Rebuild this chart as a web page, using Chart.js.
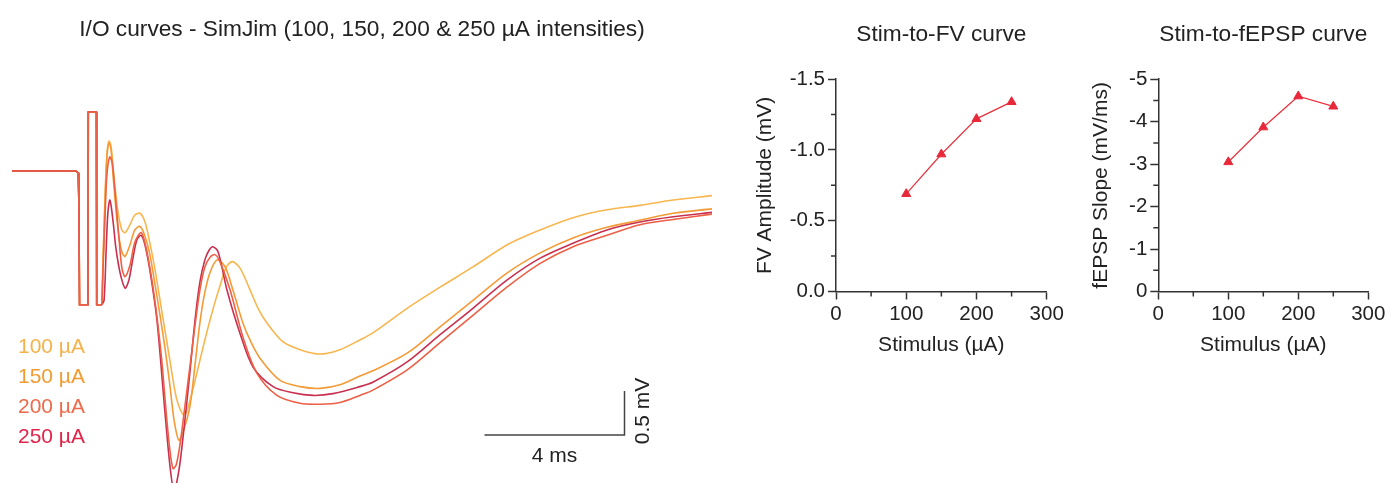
<!DOCTYPE html>
<html>
<head>
<meta charset="utf-8">
<script src="https://cdn.jsdelivr.net/npm/chart.js@4"></script>
<style>
  html, body { margin: 0; padding: 0; background: #fff; }
  body { width: 1390px; height: 483px; position: relative; overflow: hidden; font-family: "Liberation Sans", Arial, sans-serif; }
  .box { position: absolute; top: 0; }
  #tracesBox { left: 0; width: 730px; height: 483px; }
  #fvBox { left: 730px; width: 350px; height: 380px; }
  #slopeBox { left: 1060px; width: 330px; height: 380px; }
  #legend { position: absolute; left: 18px; top: 330.75px; font-size: 21px; line-height: 30px; }
</style>
</head>
<body>
<div class="box" id="tracesBox"><canvas id="traces"></canvas></div>
<div class="box" id="fvBox"><canvas id="fv"></canvas></div>
<div class="box" id="slopeBox"><canvas id="slope"></canvas></div>
<div id="legend"></div>
<script>
// stimulus intensities (µA) and the colours used for each sweep
const intensities = [100, 150, 200, 250];
const traceColors = ["#f7b650", "#f39b36", "#ec6046", "#c8304f"];
const labelColors = ["#f5b14a", "#f29b30", "#ee6a4a", "#e2244a"];

// stimulus artifact, the same on every sweep  [ms, mV]
const artifact = [[0, 0], [1.83, 0], [1.89, -0.02], [1.91, -0.33], [1.93, -1.52], [2.17, -1.52],
  [2.18, 0.67], [2.41, 0.67], [2.42, -1.52], [2.57, -1.52]];

// averaged field potentials after the artifact  [ms, mV]
const trace100 = [[2.60, -1.01], [2.66, -0.27], [2.71, 0.18], [2.77, 0.34], [2.83, 0.28], [2.91, -0.05],
  [3.03, -0.47], [3.14, -0.67], [3.23, -0.70], [3.37, -0.61], [3.51, -0.50], [3.66, -0.48], [3.80, -0.58],
  [3.94, -0.82], [4.09, -1.13], [4.23, -1.47], [4.37, -1.81], [4.51, -2.15], [4.66, -2.51], [4.74, -2.64],
  [4.89, -2.77], [4.97, -2.75], [5.09, -2.60], [5.23, -2.38], [5.37, -2.15], [5.51, -1.92], [5.66, -1.69],
  [5.80, -1.49], [5.94, -1.31], [6.11, -1.10], [6.29, -1.03], [6.51, -1.10], [6.80, -1.35], [7.03, -1.56],
  [7.29, -1.73], [7.74, -1.94], [8.23, -2.03], [8.80, -2.08], [9.37, -2.03], [9.94, -1.92], [10.31, -1.84],
  [11.29, -1.56], [12.23, -1.32], [13.17, -1.09], [14.14, -0.84], [15.09, -0.67], [16.03, -0.53],
  [17.00, -0.44], [17.94, -0.39], [18.89, -0.33], [20.00, -0.28]];

const trace150 = [[2.60, -1.07], [2.66, -0.33], [2.71, 0.15], [2.77, 0.32], [2.83, 0.24], [2.91, -0.16],
  [3.03, -0.67], [3.14, -0.92], [3.23, -0.97], [3.37, -0.84], [3.51, -0.67], [3.66, -0.63], [3.80, -0.74],
  [3.94, -0.95], [4.09, -1.30], [4.23, -1.64], [4.37, -2.01], [4.51, -2.43], [4.63, -2.83], [4.77, -3.06],
  [4.91, -2.94], [5.09, -2.66], [5.23, -2.20], [5.37, -1.72], [5.51, -1.38], [5.66, -1.15], [5.86, -1.01],
  [6.09, -1.09], [6.31, -1.35], [6.60, -1.73], [6.80, -1.92], [7.09, -2.13], [7.66, -2.38], [8.23, -2.45],
  [8.80, -2.47], [9.37, -2.43], [9.94, -2.33], [10.31, -2.27], [11.29, -2.07], [12.23, -1.77],
  [13.17, -1.47], [14.14, -1.16], [15.09, -0.93], [16.03, -0.76], [17.00, -0.64], [17.94, -0.56],
  [18.89, -0.48], [20.00, -0.43]];

const trace200 = [[2.60, -1.13], [2.66, -0.50], [2.71, -0.05], [2.79, 0.16], [2.86, 0.10], [2.94, -0.22],
  [3.06, -0.78], [3.14, -1.10], [3.23, -1.20], [3.37, -1.07], [3.51, -0.81], [3.69, -0.70], [3.80, -0.82],
  [3.94, -1.10], [4.06, -1.41], [4.17, -1.75], [4.29, -2.20], [4.40, -2.72], [4.51, -3.17], [4.60, -3.38],
  [4.69, -3.34], [4.80, -3.11], [4.91, -2.77], [5.09, -2.20], [5.23, -1.75], [5.37, -1.35], [5.51, -1.09],
  [5.66, -0.98], [5.80, -0.95], [5.94, -1.03], [6.23, -1.35], [6.60, -1.89], [7.00, -2.30], [7.57, -2.55],
  [8.23, -2.64], [8.80, -2.65], [9.37, -2.63], [9.94, -2.55], [10.31, -2.49], [11.29, -2.26],
  [12.23, -1.95], [13.17, -1.64], [14.14, -1.32], [15.09, -1.05], [16.03, -0.86], [17.00, -0.73],
  [17.94, -0.61], [18.89, -0.55], [20.00, -0.49]];

const trace250 = [[2.63, -1.47], [2.69, -0.90], [2.74, -0.47], [2.80, -0.33], [2.89, -0.58], [2.97, -0.88],
  [3.09, -1.16], [3.23, -1.33], [3.34, -1.24], [3.46, -0.98], [3.57, -0.78], [3.69, -0.73], [3.80, -0.84],
  [3.94, -1.13], [4.14, -1.69], [4.34, -2.60], [4.51, -3.34], [4.63, -3.63], [4.77, -3.40], [4.91, -2.94],
  [5.09, -2.26], [5.23, -1.69], [5.37, -1.26], [5.51, -1.01], [5.63, -0.90], [5.74, -0.86], [5.89, -0.92],
  [6.14, -1.35], [6.51, -1.84], [6.89, -2.23], [7.46, -2.45], [8.03, -2.52], [8.60, -2.55], [9.17, -2.53],
  [9.94, -2.45], [10.31, -2.40], [11.29, -2.17], [12.23, -1.86], [13.17, -1.56], [14.14, -1.24],
  [15.09, -0.99], [16.03, -0.82], [17.00, -0.67], [17.94, -0.58], [18.89, -0.52], [20.00, -0.47]];

// input/output summary
const stimulus = [100, 150, 200, 250];
const fvAmplitude = [-0.69, -0.97, -1.22, -1.34];
const fepspSlope = [-3.05, -3.87, -4.60, -4.36];

// scale bar: 4 ms by 0.5 mV
const scaleBar = { x: 13.5, y: -3.0, ms: 4, mV: 0.5 };

const FONT = '"Liberation Sans", Arial, sans-serif';
const ink = "#222";
const axisColor = "#333";
Chart.defaults.font.family = FONT;
Chart.defaults.color = ink;

// legend labels under the traces
const legendEl = document.getElementById("legend");
intensities.forEach((v, i) => {
  const d = document.createElement("div");
  d.textContent = v + " µA";
  d.style.color = labelColors[i];
  legendEl.appendChild(d);
});

const scaleBarPlugin = {
  id: "scaleBar",
  afterDatasetsDraw(chart) {
    const { ctx, scales: { x, y } } = chart;
    const x0 = x.getPixelForValue(scaleBar.x);
    const x1 = x.getPixelForValue(scaleBar.x + scaleBar.ms);
    const y0 = y.getPixelForValue(scaleBar.y);
    const y1 = y.getPixelForValue(scaleBar.y + scaleBar.mV);
    ctx.save();
    ctx.strokeStyle = "#444";
    ctx.lineWidth = 1.5;
    ctx.beginPath();
    ctx.moveTo(x0, y0);
    ctx.lineTo(x1, y0);
    ctx.lineTo(x1, y1);
    ctx.stroke();
    ctx.fillStyle = ink;
    ctx.font = "21px " + FONT;
    ctx.textAlign = "center";
    ctx.textBaseline = "middle";
    ctx.fillText(scaleBar.ms + " ms", (x0 + x1) / 2, y0 + 21);
    ctx.translate(x1 + 19, (y0 + y1) / 2 - 2);
    ctx.rotate(-Math.PI / 2);
    ctx.fillText(scaleBar.mV + " mV", 0, 0);
    ctx.restore();
  },
};

const order = { 100: 3, 150: 2, 200: 0, 250: 1 };
const sweeps = [trace100, trace150, trace200, trace250];
const toXY = (pts) => pts.map(([x, y]) => ({ x, y }));

// the artifact is drawn straight, the response is smoothed
const traceSets = [];
sweeps.forEach((tr, i) => {
  const common = {
    borderColor: traceColors[i],
    borderWidth: 1.6,
    pointRadius: 0,
    clip: false,
    order: order[intensities[i]],
  };
  traceSets.push({ ...common, label: "artifact", data: toXY(artifact), tension: 0 });
  traceSets.push({
    ...common,
    label: intensities[i] + " µA",
    data: toXY([artifact[artifact.length - 1]].concat(tr)),
    tension: 0.3,
    capBezierPoints: false,
  });
});

new Chart(document.getElementById("traces"), {
  type: "line",
  data: { datasets: traceSets },
  options: {
    responsive: true,
    maintainAspectRatio: false,
    animation: false,
    events: [],
    layout: { padding: { left: 12, right: 18, top: 0, bottom: 4 } },
    plugins: {
      legend: { display: false },
      tooltip: { enabled: false },
      title: {
        display: true,
        text: "I/O curves - SimJim (100, 150, 200 & 250 µA intensities)",
        color: ink,
        font: { size: 22.7, weight: "normal" },
        padding: { top: 16.4, bottom: 17.4 },
      },
    },
    scales: {
      x: { type: "linear", min: 0, max: 20, display: false },
      y: { type: "linear", min: -3.5, max: 1.25, display: false },
    },
  },
  plugins: [scaleBarPlugin],
});

// short unlabeled ticks between the labeled ones
const minorTicks = {
  id: "minorTicks",
  afterDraw(chart, args, opts) {
    const { ctx } = chart;
    const x = chart.scales.x, y = chart.scales.y;
    const isMinor = (v, step) => Math.abs(v / step - Math.round(v / step)) > 1e-6;
    ctx.save();
    ctx.strokeStyle = axisColor;
    ctx.lineWidth = 1.5;
    ctx.beginPath();
    x.ticks.forEach((t) => {
      if (!isMinor(t.value, opts.xMajor)) return;
      const p = x.getPixelForValue(t.value);
      ctx.moveTo(p, x.top);
      ctx.lineTo(p, x.top + 5);
    });
    y.ticks.forEach((t) => {
      if (!isMinor(t.value, opts.yMajor)) return;
      const p = y.getPixelForValue(t.value);
      ctx.moveTo(y.right - 5, p);
      ctx.lineTo(y.right, p);
    });
    ctx.stroke();
    ctx.restore();
  },
};

function ioChart(id, title, yTitle, values, yMin, yStep, yMajor, decimals, yWidth, titlePad, rightPad) {
  const major = (v, step) => Math.abs(v / step - Math.round(v / step)) < 1e-6;
  return new Chart(document.getElementById(id), {
    type: "line",
    data: {
      labels: stimulus,
      datasets: [{
        data: stimulus.map((s, i) => ({ x: s, y: values[i] })),
        borderColor: "#e8323c",
        borderWidth: 1.2,
        pointStyle: "triangle",
        pointRadius: 5.2,
        pointBackgroundColor: "#e8283a",
        pointBorderColor: "#e8283a",
        pointBorderWidth: 1,
        tension: 0,
        clip: false,
      }],
    },
    options: {
      responsive: true,
      maintainAspectRatio: false,
      animation: false,
      events: [],
      layout: { padding: { left: 0, right: rightPad, top: 0, bottom: 0 } },
      plugins: {
        legend: { display: false },
        tooltip: { enabled: false },
        title: {
          display: true,
          text: title,
          fullSize: false,
          color: ink,
          font: { size: 22.7, weight: "normal" },
          padding: { top: 21.4, bottom: 30.6 },
        },
        minorTicks: { xMajor: 100, yMajor: yMajor },
      },
      scales: {
        x: {
          type: "linear",
          min: 0,
          max: 300,
          afterFit: (s) => { s.height = 88.5; },
          border: { display: true, color: axisColor, width: 1.5 },
          grid: {
            drawOnChartArea: false,
            tickLength: 8,
            tickWidth: 1.5,
            tickColor: (c) => (major(c.tick.value, 100) ? axisColor : "transparent"),
          },
          ticks: {
            stepSize: 50,
            autoSkip: false,
            maxRotation: 0,
            padding: 3,
            color: ink,
            font: { size: 20.5 },
            callback: (v) => (major(v, 100) ? String(v) : ""),
          },
          title: {
            display: true,
            text: "Stimulus (µA)",
            color: ink,
            font: { size: 21 },
            padding: { top: 0, bottom: 22.4 },
          },
        },
        y: {
          type: "linear",
          min: yMin,
          max: 0,
          reverse: true,
          afterFit: (s) => { s.width = yWidth; },
          border: { display: true, color: axisColor, width: 1.5 },
          grid: {
            drawOnChartArea: false,
            tickLength: 8,
            tickWidth: 1.5,
            tickColor: (c) => (major(c.tick.value, yMajor) ? axisColor : "transparent"),
          },
          ticks: {
            stepSize: yStep,
            autoSkip: false,
            padding: 3,
            color: ink,
            font: { size: 20.5 },
            callback: (v) => (major(v, yMajor) ? (Math.abs(v) < 1e-9 ? 0 : v).toFixed(decimals) : ""),
          },
          title: {
            display: true,
            text: yTitle,
            color: ink,
            font: { size: 21 },
            padding: { top: titlePad, bottom: 0 },
          },
        },
      },
    },
    plugins: [minorTicks],
  });
}

ioChart("fv", "Stim-to-FV curve", "FV Amplitude (mV)", fvAmplitude, -1.5, 0.25, 0.5, 1, 106, 22.9, 33.3);
ioChart("slope", "Stim-to-fEPSP curve", "fEPSP Slope (mV/ms)", fepspSlope, -5, 0.5, 1, 0, 98.3, 28.4, 21.7);
</script>
</body>
</html>
